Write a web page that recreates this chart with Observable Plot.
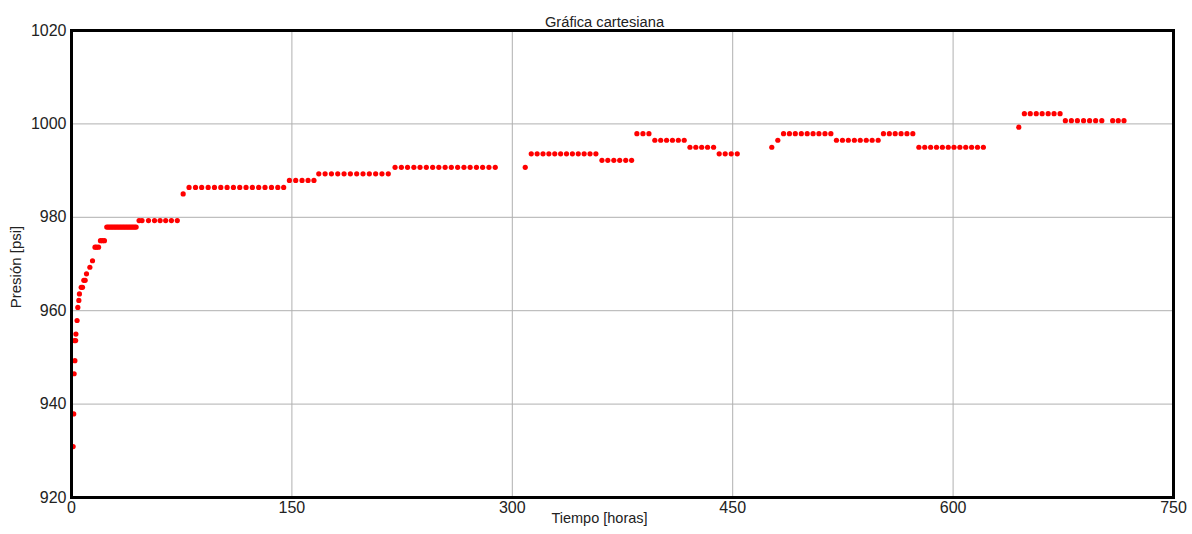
<!DOCTYPE html>
<html>
<head>
<meta charset="utf-8">
<script src="https://cdn.jsdelivr.net/npm/d3@7"></script>
<script src="https://cdn.jsdelivr.net/npm/@observablehq/plot@0.6"></script>
<style>
  html, body { margin: 0; padding: 0; background: #fff; }
  #chart { width: 1192px; height: 534px; }
</style>
</head>
<body>
<div id="chart"></div>
<script>
const titulo = "Gráfica cartesiana";
const etiquetaX = "Tiempo [horas]";
const etiquetaY = "Presión [psi]";
const ticksX = [0, 150, 300, 450, 600, 750];
const ticksY = [920, 940, 960, 980, 1000, 1020];

const tiempo = [
  1.1, 1.5, 1.8, 2.3, 2.0, 2.8, 3.0, 3.8, 4.3, 5.0, 5.4, 6.6, 7.5, 8.4, 9.3, 10.2, 12.5, 14.3,
  16.0, 17.0, 18.4, 19.7, 21.0, 22.4,
  24, 25, 26, 27, 28, 29, 30, 31, 32, 33, 34, 35, 36, 37, 38, 39, 40, 41, 42, 43, 44,
  46.0, 48.0, 52.4, 56.5, 60.3, 64.1, 68.0, 72.0,
  76.0,
  80.0, 84.4, 88.6, 93.0, 97.3, 101.6, 105.9, 110.2, 114.5, 118.8, 123.1, 127.4, 131.7, 136.1, 140.4, 144.4,
  148.3, 152.6, 156.9, 161.0, 165.0,
  168.3, 172.6, 176.9, 181.2, 185.5, 189.8, 194.1, 198.4, 202.7, 207.0, 211.3, 215.6,
  220.2, 224.5, 228.7, 233.0, 237.2, 241.5, 245.8, 250.0, 254.3, 258.5, 262.8, 267.1, 271.3, 275.6, 279.8, 284.1, 288.4,
  308.8,
  312.9, 316.9, 320.9, 324.9, 328.9, 332.9, 336.9, 340.9, 344.9, 348.9, 352.9, 356.9,
  361.0, 365.0, 369.1, 373.1, 377.2, 381.2,
  384.8, 388.9, 393.0,
  397.0, 401.0, 405.0, 409.0, 413.0, 417.0,
  420.9, 424.9, 428.9, 432.9, 437.0,
  440.8, 444.9, 449.0, 453.1,
  476.6, 480.7,
  484.6, 488.6, 492.6, 496.7, 500.7, 504.7, 508.7, 512.8, 516.8,
  520.6, 524.7, 528.7, 532.8, 536.8, 540.9, 544.9, 549.0,
  552.6, 556.6, 560.6, 564.6, 568.6, 572.6,
  576.7, 580.7, 584.7, 588.7, 592.7, 596.7, 600.6, 604.6, 608.6, 612.6, 616.6, 620.6,
  644.7,
  648.5, 652.5, 656.6, 660.6, 664.7, 668.7, 672.8,
  676.4, 680.5, 684.6, 688.8, 692.9, 697.0, 701.2,
  708.6, 712.4, 716.3
];

const presion = [
  930.9, 937.9, 946.5, 949.3, 953.6, 953.6, 955.0, 957.9, 960.7, 962.2, 963.6, 965.0, 965.0, 966.5, 966.5, 967.9, 969.3, 970.7,
  973.6, 973.6, 973.6, 975.0, 975.0, 975.0,
  977.9, 977.9, 977.9, 977.9, 977.9, 977.9, 977.9, 977.9, 977.9, 977.9, 977.9, 977.9, 977.9, 977.9, 977.9, 977.9, 977.9, 977.9, 977.9, 977.9, 977.9,
  979.3, 979.3, 979.3, 979.3, 979.3, 979.3, 979.3, 979.3,
  985.0,
  986.4, 986.4, 986.4, 986.4, 986.4, 986.4, 986.4, 986.4, 986.4, 986.4, 986.4, 986.4, 986.4, 986.4, 986.4, 986.4,
  987.9, 987.9, 987.9, 987.9, 987.9,
  989.3, 989.3, 989.3, 989.3, 989.3, 989.3, 989.3, 989.3, 989.3, 989.3, 989.3, 989.3,
  990.7, 990.7, 990.7, 990.7, 990.7, 990.7, 990.7, 990.7, 990.7, 990.7, 990.7, 990.7, 990.7, 990.7, 990.7, 990.7, 990.7,
  990.7,
  993.6, 993.6, 993.6, 993.6, 993.6, 993.6, 993.6, 993.6, 993.6, 993.6, 993.6, 993.6,
  992.2, 992.2, 992.2, 992.2, 992.2, 992.2,
  997.9, 997.9, 997.9,
  996.5, 996.5, 996.5, 996.5, 996.5, 996.5,
  995.0, 995.0, 995.0, 995.0, 995.0,
  993.6, 993.6, 993.6, 993.6,
  995.0, 996.5,
  997.9, 997.9, 997.9, 997.9, 997.9, 997.9, 997.9, 997.9, 997.9,
  996.5, 996.5, 996.5, 996.5, 996.5, 996.5, 996.5, 996.5,
  997.9, 997.9, 997.9, 997.9, 997.9, 997.9,
  995.0, 995.0, 995.0, 995.0, 995.0, 995.0, 995.0, 995.0, 995.0, 995.0, 995.0, 995.0,
  999.3,
  1002.2, 1002.2, 1002.2, 1002.2, 1002.2, 1002.2, 1002.2,
  1000.7, 1000.7, 1000.7, 1000.7, 1000.7, 1000.7, 1000.7,
  1000.7, 1000.7, 1000.7
];

const datos = tiempo.map((t, i) => ({t, p: presion[i]}));

const chart = Plot.plot({
  width: 1192,
  height: 534,
  marginLeft: 71,
  marginRight: 19,
  marginTop: 30,
  marginBottom: 37,
  style: {fontFamily: "Arial, 'Liberation Sans', sans-serif", background: "#fff", color: "#222"},
  x: {domain: [0, 750]},
  y: {domain: [920, 1020]},
  marks: [
    Plot.gridX(ticksX, {stroke: "#b0b0b0", strokeOpacity: 1, strokeWidth: 1}),
    Plot.gridY(ticksY, {stroke: "#b0b0b0", strokeOpacity: 1, strokeWidth: 1}),
    Plot.axisX(ticksX, {tickSize: 0, tickPadding: 4, fontSize: 16, label: null, fill: "#222", tickFormat: d => String(d)}),
    Plot.axisY(ticksY, {tickSize: 0, tickPadding: 5, fontSize: 16, label: null, fill: "#222", tickFormat: d => String(d)}),
    Plot.dot(datos, {x: "t", y: "p", r: 2.6, fill: "red", stroke: "none"}),
    Plot.frame({stroke: "black", strokeWidth: 3}),
    Plot.text([titulo], {frameAnchor: "top", dx: -18, dy: -14, fontSize: 14.7, fill: "#222"}),
    Plot.text([etiquetaX], {frameAnchor: "bottom", dx: -23, dy: 25, fontSize: 14.5, fill: "#222"}),
    Plot.text([etiquetaY], {frameAnchor: "left", textAnchor: "middle", dx: -55, dy: 3, rotate: -90, fontSize: 15, fill: "#222"})
  ]
});
document.getElementById("chart").appendChild(chart);
</script>
</body>
</html>
